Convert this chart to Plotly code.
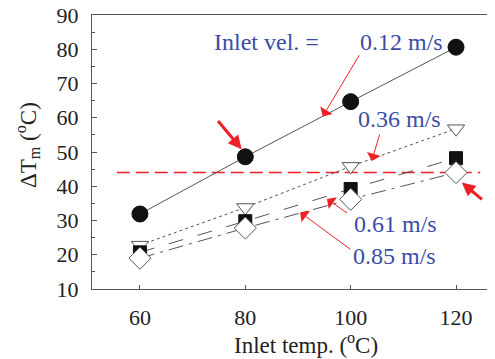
import plotly.graph_objects as go

inlet_temp = [60, 80, 100, 120]
dT_012 = [31.9, 48.6, 64.7, 80.6]
dT_036 = [22.8, 33.8, 45.8, 56.8]
dT_061 = [20.7, 29.8, 39.2, 48.2]
dT_085 = [19.0, 27.8, 36.2, 44.0]
limit_x = [55.6, 124.6]
limit_y = [44, 44]

FONT = "Liberation Serif"
BLUE = "#3b4ca6"
RED = "#ee2026"
LINE = "#555555"

fig = go.Figure()

fig.add_trace(go.Scatter(x=limit_x, y=limit_y, mode="lines",
                         line=dict(color=RED, width=1.6, dash="13px,6px"), showlegend=False))

fig.add_trace(go.Scatter(x=inlet_temp, y=dT_012, mode="lines+markers",
                         line=dict(color=LINE, width=1),
                         marker=dict(symbol="circle", size=16, color="#111111",
                                     line=dict(color="#111111", width=1)),
                         showlegend=False))
fig.add_trace(go.Scatter(x=inlet_temp, y=dT_036, mode="lines+markers",
                         line=dict(color=LINE, width=1, dash="dot"),
                         marker=dict(symbol="triangle-down", size=15, color="white",
                                     line=dict(color=LINE, width=1)),
                         showlegend=False))
fig.add_trace(go.Scatter(x=inlet_temp, y=dT_061, mode="lines+markers",
                         line=dict(color=LINE, width=1, dash="longdash"),
                         marker=dict(symbol="square", size=13, color="#111111",
                                     line=dict(color="#111111", width=1)),
                         showlegend=False))
fig.add_trace(go.Scatter(x=inlet_temp, y=dT_085, mode="lines+markers",
                         line=dict(color=LINE, width=1, dash="longdashdot"),
                         marker=dict(symbol="diamond", size=17, color="white",
                                     line=dict(color=LINE, width=1)),
                         showlegend=False))

labels = [
    ("Inlet vel. =", 84.0, 82.2),
    ("0.12 m/s", 109.7, 82.2),
    ("0.36 m/s", 109.2, 59.6),
    ("0.61 m/s", 108.5, 29.1),
    ("0.85 m/s", 108.4, 19.6),
]
annotations = []
for txt, x, y in labels:
    annotations.append(dict(text=txt, x=x, y=y, xref="x", yref="y", showarrow=False,
                            font=dict(family=FONT, size=24, color=BLUE),
                            xanchor="center", yanchor="middle"))

arrows = [
    # tip x, tip y, tail x, tail y, width, head
    (94.7, 60.4, 101.8, 78.7, 1, 1.0),
    (104.0, 47.4, 105.6, 55.6, 1, 1.0),
    (95.5, 36.3, 99.6, 31.9, 1, 1.0),
    (90.4, 32.4, 100.2, 21.3, 1, 1.0),
    (79.3, 50.8, 74.6, 59.5, 3, 0.9),
    (121.1, 41.1, 125.2, 35.8, 3, 0.9),
]
for tx, ty, axx, ayy, w, s in arrows:
    annotations.append(dict(x=tx, y=ty, ax=axx, ay=ayy, xref="x", yref="y",
                            axref="x", ayref="y", text="", showarrow=True,
                            arrowhead=2 if w > 1 else 1, arrowsize=s if w > 1 else 2.4,
                            arrowwidth=w, arrowcolor=RED))

# axis titles as paper annotations for exact placement
annotations.append(dict(text="Inlet temp. (<sup>o</sup>C)", xref="paper", yref="paper",
                        x=(306 - 92) / 403, y=-(343 - 289) / 274, showarrow=False,
                        xanchor="center", yanchor="middle",
                        font=dict(family=FONT, size=23, color="#222222")))
annotations.append(dict(text="ΔT<sub>m</sub> (<sup>o</sup>C)", xref="paper", yref="paper",
                        x=-(92 - 27) / 403, y=(289 - 145) / 274, showarrow=False,
                        textangle=-90, xanchor="center", yanchor="middle",
                        font=dict(family=FONT, size=23, color="#222222")))

# page body has an 8px default margin, so the figure is offset by 8px
fig.update_layout(
    width=487, height=351,
    margin=dict(l=84, r=0, t=7, b=70, autoexpand=False),
    paper_bgcolor="white", plot_bgcolor="white",
    font=dict(family=FONT, size=22, color="#222222"),
    annotations=annotations,
    showlegend=False,
)
fig.update_xaxes(range=[50.9, 127.4], tickvals=inlet_temp, ticks="inside", ticklen=4,
                 tickcolor=LINE, showline=True, linecolor=LINE, linewidth=1.2, mirror=True,
                 showgrid=False, zeroline=False, ticklabelstandoff=8, automargin=False,
                 ticklabeloverflow="allow")
fig.update_yaxes(range=[10, 90], dtick=10, ticks="inside", ticklen=5, tickcolor=LINE,
                 showline=True, linecolor=LINE, linewidth=1.2, showgrid=False, zeroline=False,
                 minor=dict(dtick=5, ticks="inside", ticklen=3, tickcolor=LINE),
                 ticklabelstandoff=8, automargin=False, ticklabeloverflow="allow")

fig.write_html("out.html")
